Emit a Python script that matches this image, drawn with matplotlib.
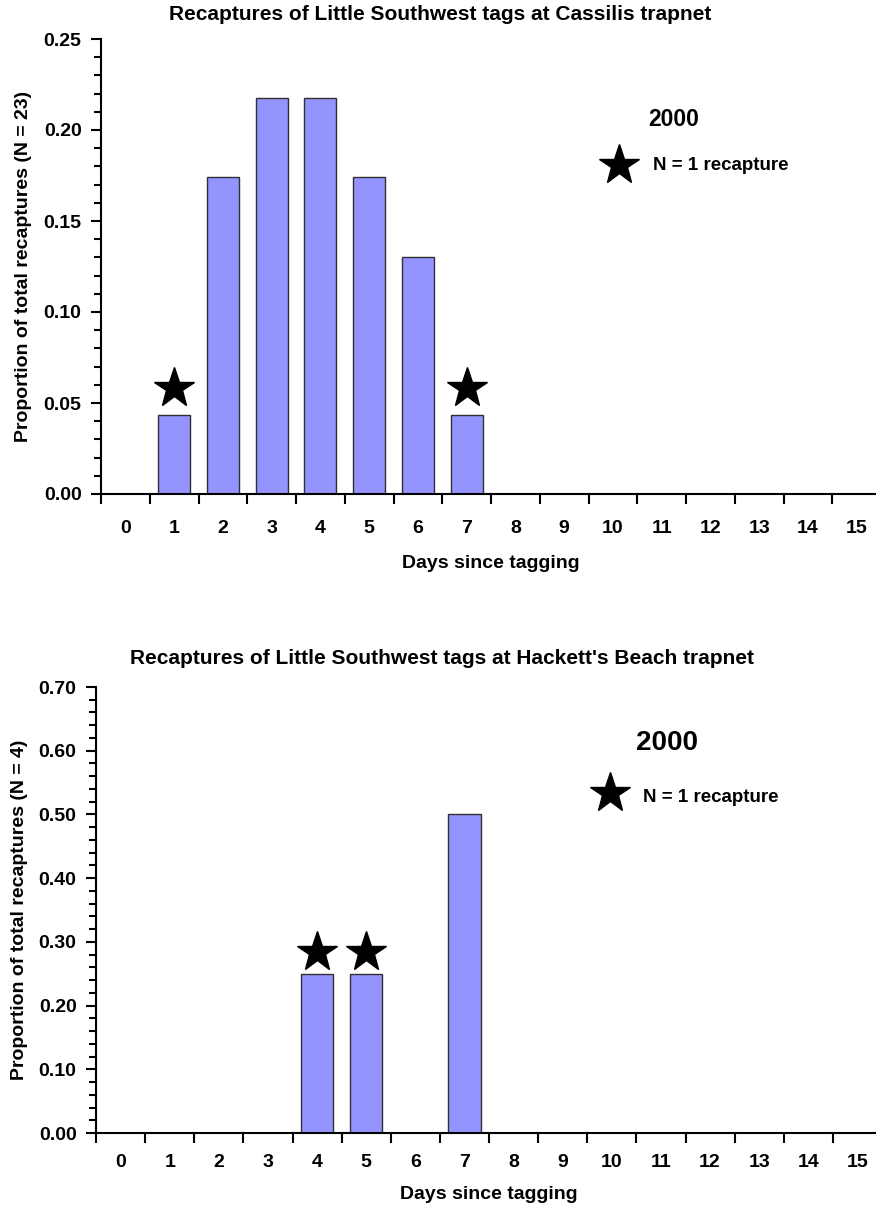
import numpy as np
import matplotlib
matplotlib.use("Agg")
import matplotlib.pyplot as plt
from matplotlib.ticker import (MultipleLocator, FixedLocator, NullFormatter,
                               FixedFormatter, FormatStrFormatter)

plt.rcParams['font.family'] = ['Liberation Sans', 'DejaVu Sans']
plt.rcParams['font.weight'] = 'bold'

# Days since tagging (categories)
days = list(range(16))
day_labels = [str(d) for d in days]

# Cassilis trapnet recaptures per day (N = 23)
cassilis_counts = [0, 1, 4, 5, 5, 4, 3, 1, 0, 0, 0, 0, 0, 0, 0, 0]
cassilis_total = 23

# Hackett's Beach trapnet recaptures per day (N = 4)
hackett_counts = [0, 0, 0, 0, 1, 1, 0, 2, 0, 0, 0, 0, 0, 0, 0, 0]
hackett_total = 4

year_label = "2000"
single_label = "N = 1 recapture"

BAR_COLOR = "#9494FF"
EDGE_COLOR = "#303030"
TEXT_SIZE = 14
TITLE_SIZE = 15


def draw_panel(fig, rect, counts, total, ymax, ymajor, yminor, star_offset,
               title, title_xy, ylabel, year_xy, year_size, key_star_xy,
               key_text_xy, xtick_pad, xlabel_pad):
    ax = fig.add_axes(rect)
    counts = np.asarray(counts)
    props = counts / total
    ax.bar(days, props, width=0.66, color=BAR_COLOR, edgecolor=EDGE_COLOR,
           linewidth=1.0, zorder=2)

    # single-recapture days get a star above the bar
    single = counts == 1
    ax.plot(np.array(days)[single], props[single] + star_offset, linestyle='none',
            marker='*', markersize=30, color='black', clip_on=False, zorder=3)

    ax.set_xlim(-0.5, 15.5)
    ax.set_ylim(0, ymax)

    # boundary tick marks between days, labels centred on each day
    ax.xaxis.set_major_locator(FixedLocator(np.arange(-0.5, 15.0, 1.0)))
    ax.xaxis.set_major_formatter(NullFormatter())
    ax.xaxis.set_minor_locator(FixedLocator(days))
    ax.xaxis.set_minor_formatter(FixedFormatter(day_labels))
    ax.tick_params(axis='x', which='major', direction='out', length=7, width=1.5)
    ax.tick_params(axis='x', which='minor', length=0, pad=xtick_pad,
                   labelsize=TEXT_SIZE)

    ax.yaxis.set_major_locator(MultipleLocator(ymajor))
    ax.yaxis.set_minor_locator(MultipleLocator(yminor))
    ax.yaxis.set_major_formatter(FormatStrFormatter('%.2f'))
    ax.tick_params(axis='y', which='major', direction='out', length=7, width=1.5,
                   pad=7, labelsize=TEXT_SIZE)
    ax.tick_params(axis='y', which='minor', direction='out', length=5, width=1.5)

    for s in ('top', 'right'):
        ax.spines[s].set_visible(False)
    for s in ('left', 'bottom'):
        ax.spines[s].set_linewidth(1.5)

    ax.set_xlabel("Days since tagging", fontsize=TEXT_SIZE, fontweight='bold',
                  labelpad=xlabel_pad)
    ax.set_ylabel(ylabel, fontsize=TEXT_SIZE, fontweight='bold', labelpad=8)

    fig.text(title_xy[0], title_xy[1], title, ha='center', va='center',
             fontsize=TITLE_SIZE, fontweight='bold')

    ax.text(year_xy[0], year_xy[1], year_label, transform=ax.transAxes,
            ha='center', va='center', fontsize=year_size, fontweight='bold')
    ax.plot([key_star_xy[0]], [key_star_xy[1]], transform=ax.transAxes,
            marker='*', markersize=30, color='black', linestyle='none')
    ax.text(key_text_xy[0], key_text_xy[1], single_label, transform=ax.transAxes,
            ha='left', va='center', fontsize=13.5, fontweight='bold')
    return ax


fig = plt.figure(figsize=(8.76, 12.07), dpi=100)

draw_panel(fig, [101 / 876, 1 - 494 / 1207, 780 / 876, 455 / 1207],
           cassilis_counts, cassilis_total, 0.25, 0.05, 0.01, 0.015,
           "Recaptures of Little Southwest tags at Cassilis trapnet",
           (440 / 876, 1 - 14 / 1207),
           "Proportion of total recaptures (N = 23)",
           (0.734, 0.822), 16.5, (0.664, 0.723), (0.708, 0.723), 19, 12.5)

draw_panel(fig, [96 / 876, 1 - 1133 / 1207, 786 / 876, 446 / 1207],
           hackett_counts, hackett_total, 0.70, 0.10, 0.02, 0.034,
           "Recaptures of Little Southwest tags at Hackett's Beach trapnet",
           (442 / 876, 1 - 658 / 1207),
           "Proportion of total recaptures (N = 4)",
           (0.726, 0.874), 20, (0.654, 0.762), (0.696, 0.753), 15, 11)

fig.savefig("out.png", dpi=100)
